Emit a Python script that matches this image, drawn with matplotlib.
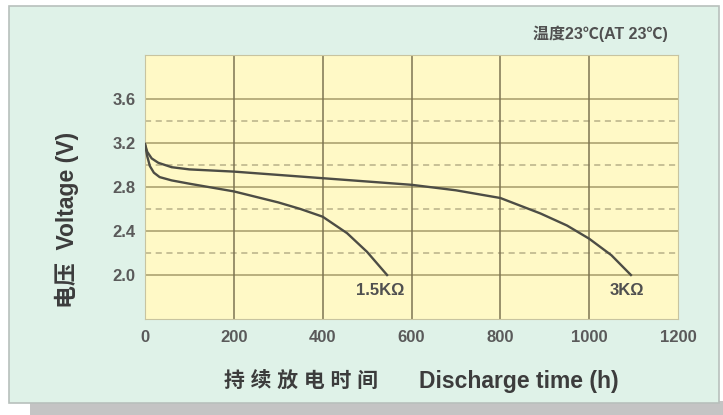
import matplotlib.pyplot as plt
from matplotlib.patches import Rectangle

# discharge curves
t_3k = [0, 5, 15, 30, 60, 100, 200, 300, 400, 500, 600, 700, 800, 890, 950, 1000, 1050, 1094]
v_3k = [3.19, 3.12, 3.06, 3.02, 2.98, 2.96, 2.94, 2.91, 2.88, 2.85, 2.82, 2.77, 2.70, 2.56, 2.45, 2.33, 2.18, 2.00]

t_15k = [0, 5, 11, 20, 33, 60, 100, 200, 300, 350, 400, 455, 500, 545]
v_15k = [3.19, 3.08, 2.99, 2.93, 2.89, 2.86, 2.83, 2.76, 2.66, 2.60, 2.53, 2.38, 2.21, 2.00]

x_ticks = [0, 200, 400, 600, 800, 1000, 1200]
y_ticks = [2.0, 2.4, 2.8, 3.2, 3.6]
y_dashed = [2.2, 2.6, 3.0, 3.4]

fonts = ['Liberation Sans', 'Noto Sans CJK SC', 'DejaVu Sans']
plt.rcParams['font.family'] = fonts

W, H = 723, 415
fig = plt.figure(figsize=(W / 100, H / 100), dpi=100)
fig.patch.set_facecolor('white')

# shadow and mint panel
fig.patches.append(Rectangle((30 / W, 0), 1, 14 / H, transform=fig.transFigure,
                             facecolor='#c4c4c4', edgecolor='none', zorder=0))
fig.patches.append(Rectangle((9 / W, 12 / H), 710 / W, 397 / H, transform=fig.transFigure,
                             facecolor='#dff2e8', edgecolor='#b8c0bc', lw=1.2, zorder=1))

ax = fig.add_axes([145 / W, 96 / H, 533 / W, 264 / H])
ax.set_zorder(2)
ax.set_facecolor('#fff9c6')
ax.set_xlim(0, 1200)
ax.set_ylim(1.6, 4.0)

for y in y_ticks:
    ax.axhline(y, color='#b3aa78', lw=1.3, zorder=1)
for y in y_dashed:
    ax.axhline(y, color='#b8b088', lw=1.1, ls=(0, (4, 3)), zorder=1)
for x in x_ticks[1:-1]:
    ax.axvline(x, color='#7d7452', lw=1.1, zorder=1)

ax.plot(t_3k, v_3k, color='#4d4d45', lw=1.7, zorder=3)
ax.plot(t_15k, v_15k, color='#4d4d45', lw=1.7, zorder=3)

ax.text(529, 1.855, '1.5KΩ', fontsize=12, fontweight='bold', color='#505050',
        ha='center', va='center')
ax.text(1085, 1.855, '3KΩ', fontsize=12, fontweight='bold', color='#505050',
        ha='center', va='center')

ax.set_xticks(x_ticks)
ax.set_yticks(y_ticks)
ax.set_yticklabels(['%.1f' % v for v in y_ticks])
ax.tick_params(length=0, labelsize=12, labelcolor='#5a5a5a', pad=7)
ax.tick_params(axis='x', pad=8)
for lab in ax.get_xticklabels() + ax.get_yticklabels():
    lab.set_fontweight('bold')
for s in ax.spines.values():
    s.set_color('#c8c4a0')
    s.set_linewidth(0.8)

fig.text(600 / W, 1 - 34 / H, '温度23℃(AT 23℃)', fontsize=11.5, fontweight='bold',
         color='#505050', ha='center', va='center')
fig.text(67 / W, 1 - 220 / H, '电压  Voltage (V)', fontsize=16.5, fontweight='bold',
         color='#3c3c3c', rotation=90, ha='center', va='center')
fig.text(301 / W, 1 - 381 / H, '持 续 放 电 时 间', fontsize=15, fontweight='bold',
         color='#3c3c3c', ha='center', va='center')
fig.text(519 / W, 1 - 381 / H, 'Discharge time (h)', fontsize=16.5, fontweight='bold',
         color='#3c3c3c', ha='center', va='center')

fig.savefig('out.png', dpi=100, facecolor=fig.get_facecolor())
